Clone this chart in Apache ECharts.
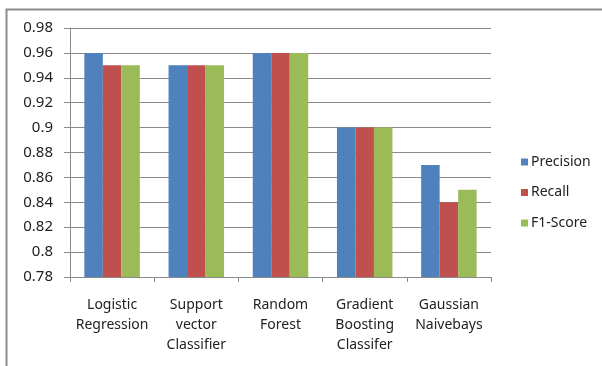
<!DOCTYPE html>
<html>
<head>
<meta charset="utf-8">
<script src="https://cdn.jsdelivr.net/npm/echarts@6/dist/echarts.min.js"></script>
<style>
  html, body { margin: 0; padding: 0; background: #fff; }
  #chart { width: 602px; height: 366px; }
</style>
</head>
<body>
<div id="chart"></div>
<script>
// Classifier names (multi-line axis labels)
const categories = [
  'Logistic\nRegression',
  'Support\nvector\nClassifier',
  'Random\nForest',
  'Gradient\nBoosting\nClassifer',
  'Gaussian\nNaivebays'
];
const precision = [0.96, 0.95, 0.96, 0.90, 0.87];
const recall    = [0.95, 0.95, 0.96, 0.90, 0.84];
const f1Score   = [0.95, 0.95, 0.96, 0.90, 0.85];
const seriesNames = ['Precision', 'Recall', 'F1-Score'];
const colors = ['#4F81BD', '#C0504D', '#9BBB59'];

const FONT = '"Noto Sans", sans-serif';
const chart = echarts.init(document.getElementById('chart'), null, { renderer: 'canvas' });

const mkSeries = (name, data, i) => ({
  name, type: 'bar', data,
  barWidth: 18.5, barGap: '0%',
  itemStyle: { color: colors[i] },
  animation: false
});

chart.setOption({
  animation: false,
  color: colors,
  graphic: [{
    type: 'polyline',
    shape: { points: [[6.5, 380], [6.5, 9.5], [620, 9.5]] },
    style: { stroke: '#8c8c8c', lineWidth: 2, fill: null },
    silent: true
  }],
  grid: { left: 70, top: 28, width: 421, height: 249, containLabel: false },
  legend: {
    orient: 'vertical', left: 516, top: 149,
    itemWidth: 7, itemHeight: 7, itemGap: 14.5,
    icon: 'rect',
    textStyle: { fontFamily: FONT, fontSize: 14, color: '#222', lineHeight: 16, padding: [0, 0, 0, -2] },
    data: seriesNames
  },
  xAxis: {
    type: 'category', data: categories,
    axisLine: { lineStyle: { color: '#8a8a8a', width: 1 } },
    axisTick: { show: true, length: 5, lineStyle: { color: '#8a8a8a' } },
    axisLabel: { fontFamily: FONT, fontSize: 14, color: '#222', lineHeight: 20, margin: 18, interval: 0 }
  },
  yAxis: {
    type: 'value', min: 0.78, max: 0.98, interval: 0.02,
    axisLine: { show: true, lineStyle: { color: '#8a8a8a' } },
    axisTick: { show: true, length: 6, inside: false, lineStyle: { color: '#8a8a8a' } },
    splitLine: { lineStyle: { color: '#8a8a8a' } },
    axisLabel: {
      fontFamily: FONT, fontSize: 15, color: '#222', margin: 17,
      formatter: v => String(parseFloat(v.toFixed(2)))
    }
  },
  series: [
    mkSeries(seriesNames[0], precision, 0),
    mkSeries(seriesNames[1], recall, 1),
    mkSeries(seriesNames[2], f1Score, 2)
  ]
});
</script>
</body>
</html>
